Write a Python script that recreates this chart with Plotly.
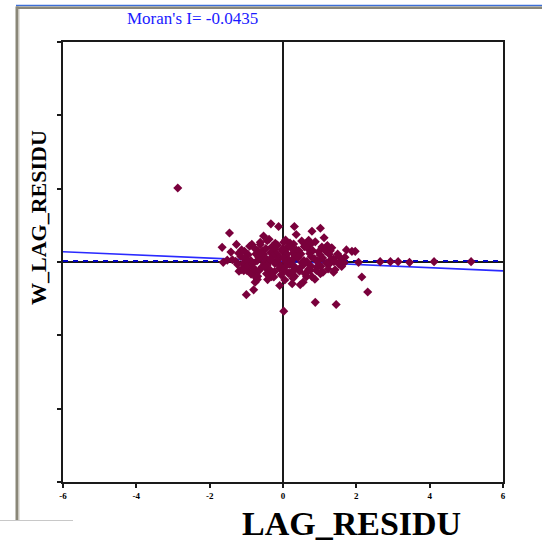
import plotly.graph_objects as go

# Moran scatterplot: residual of the spatial lag model vs. its spatially lagged value
moran_i = -0.0435
intercept = 0.02

# scattered points around the main cloud
lag_outer = [-2.87, -0.33, -0.12, 0.31, 1.02, 0.79, -1.46, 0.36, -0.53, -1.27,
             -1.66, -0.85, -0.62, -1.42, 1.73, 1.88, 0.70, 0.02, -1.63, -1.14,
             -0.76, -0.80, -1.00, -0.09, 0.25, 0.55, 0.88, 1.45, 0.02, 2.15,
             2.31, 2.06, 1.97, 2.65, 2.93, 3.14, 3.45, 4.12, 5.13, 1.38,
             1.38, 1.29, -1.20, -0.98, 0.47, -0.38, 1.12, -1.52, 1.60, -0.70]
w_outer = [2.02, 1.04, 0.97, 0.97, 0.92, 0.84, 0.79, 0.75, 0.71, 0.48,
           0.40, 0.48, 0.54, 0.27, 0.33, 0.29, 0.59, 0.54, -0.01, -0.21,
           -0.55, -0.76, -0.89, -0.64, -0.59, -0.55, -1.10, -1.16, -1.34, -0.41,
           -0.82, -0.01, 0.29, 0.01, 0.01, 0.01, -0.01, 0.01, 0.01, 0.09,
           -0.28, 0.31, -0.25, -0.24, -0.62, 0.62, 0.66, 0.05, -0.12, -0.48]

# dense core of the cloud
lag_core = [-0.43, -0.21, 0.07, 0.19, 0.51, 0.63, 0.88,
            -0.91, -0.62, -0.31, -0.15, 0.12, 0.29, 0.58, 0.74, 1.06, 1.21,
            -1.13, -0.79, -0.69, -0.47, -0.22, -0.03, 0.21, 0.36, 0.66, 0.81, 1.14, 1.33,
            -1.21, -1.05, -0.74, -0.57, -0.34, -0.17, 0.05, 0.27, 0.43, 0.73, 0.97, 1.16, 1.49,
            -1.15, -0.95, -0.66, -0.53, -0.27, -0.09, 0.11, 0.33, 0.49, 0.77, 1.01, 1.26, 1.53, 1.69,
            -1.38, -1.04, -0.88, -0.59, -0.45, -0.19, 0.01, 0.16, 0.41, 0.57, 0.86, 1.08, 1.31, 1.58,
            -1.29, -1.09, -0.97, -0.71, -0.51, -0.37, -0.12, 0.08, 0.23, 0.52, 0.65, 0.93, 1.18, 1.39, 1.67,
            -1.24, -0.97, -0.83, -0.57, -0.43, -0.22, -0.07, 0.17, 0.32, 0.58, 0.75, 1.03, 1.25, 1.52,
            -1.01, -0.75, -0.49, -0.35, -0.09, 0.06, 0.31, 0.47, 0.75, 0.92, 1.23, 1.42,
            -1.07, -0.82, -0.65, -0.39, -0.23, 0.03, 0.19, 0.45, 0.62, 0.91, 1.09,
            -0.87, -0.69, -0.45, -0.31, -0.05, 0.15, 0.32, 0.61, 0.79, 1.02,
            -0.73, -0.42, -0.25, 0.05, 0.27, 0.64, 0.87,
            -0.35, 0.41, -0.81, 0.95, -0.02, 0.24, -0.60, 0.70]
w_core = [0.58, 0.51, 0.60, 0.52, 0.57, 0.49, 0.55,
          0.43, 0.48, 0.41, 0.46, 0.40, 0.49, 0.42, 0.47, 0.41, 0.45,
          0.33, 0.39, 0.31, 0.37, 0.35, 0.30, 0.40, 0.33, 0.38, 0.31, 0.36, 0.39,
          0.24, 0.29, 0.22, 0.30, 0.26, 0.21, 0.29, 0.24, 0.31, 0.23, 0.28, 0.30, 0.22,
          0.15, 0.20, 0.13, 0.21, 0.17, 0.12, 0.21, 0.15, 0.22, 0.14, 0.19, 0.21, 0.15, 0.13,
          0.06, 0.11, 0.04, 0.12, 0.08, 0.03, 0.11, 0.06, 0.12, 0.04, 0.09, 0.11, 0.07, 0.05,
          0.02, -0.04, 0.01, 0.03, -0.03, 0.02, -0.04, 0.00, 0.03, -0.02, 0.01, 0.02, -0.03, 0.01, -0.02,
          -0.07, -0.12, -0.05, -0.13, -0.08, -0.04, -0.12, -0.07, -0.13, -0.05, -0.10, -0.12, -0.07, -0.05,
          -0.15, -0.21, -0.14, -0.22, -0.17, -0.13, -0.21, -0.16, -0.22, -0.14, -0.19, -0.21,
          -0.24, -0.30, -0.23, -0.31, -0.26, -0.22, -0.30, -0.25, -0.31, -0.23, -0.28,
          -0.33, -0.39, -0.32, -0.40, -0.35, -0.31, -0.39, -0.33, -0.40, -0.32,
          -0.43, -0.48, -0.41, -0.49, -0.44, -0.40, -0.47,
          0.08, 0.14, -0.18, 0.02, 0.35, -0.09, 0.24, -0.20]

lag_residu = lag_outer + lag_core
w_lag_residu = w_outer + w_core

x_ticks = [-6, -4, -2, 0, 2, 4, 6]
x_labels = ["-6", "-4", "-2", "0", "2", "4", "6"]
y_ticks = [-6, -4, -2, 0, 2, 4, 6]
axis_range = [-6, 6]

# page geometry (pixels) of the plotting area
W, H = 542, 548
L, R, T, B = 63, 503, 42, 482


def px(x):
    return (x - L) / (R - L)


def py(y):
    return (B - y) / (B - T)


fig = go.Figure()

# fitted slope line
fig.add_trace(go.Scatter(
    x=axis_range,
    y=[intercept + moran_i * v for v in axis_range],
    mode="lines", line=dict(color="#2a2aff", width=1.6),
    hoverinfo="skip", showlegend=False,
))

# reference dashed line
fig.add_trace(go.Scatter(
    x=axis_range, y=[0.03, 0.03],
    mode="lines", line=dict(color="#0000c8", width=2, dash="5px,5px"),
    hoverinfo="skip", showlegend=False,
))

fig.add_trace(go.Scatter(
    x=lag_residu, y=w_lag_residu,
    mode="markers",
    marker=dict(symbol="diamond", size=7, color="#7a003c", line=dict(width=0)),
    showlegend=False,
))

axis_common = dict(
    range=axis_range, showgrid=False,
    zeroline=True, zerolinecolor="#1a1a1a", zerolinewidth=1.5,
    showline=True, mirror=True, linecolor="#1a1a1a", linewidth=1.5,
    ticks="outside", ticklen=4, tickwidth=1.5, tickcolor="#1a1a1a",
)

fig.update_xaxes(
    **axis_common, tickvals=x_ticks, ticktext=x_labels,
    tickfont=dict(family="Liberation Serif", size=9, color="#000000", weight="bold"),
)
fig.update_yaxes(**axis_common, tickvals=y_ticks, showticklabels=False)

# window frame around the chart
frame = [
    dict(type="line", x0=px(16), x1=px(542), y0=py(5.5), y1=py(5.5),
         line=dict(color="#3d6fd6", width=1.5)),
    dict(type="rect", x0=px(16), x1=px(542), y0=py(6.5), y1=py(9),
         fillcolor="#8a8778", line=dict(width=0)),
    dict(type="rect", x0=px(15.5), x1=px(18.5), y0=py(6.5), y1=py(520),
         fillcolor="#8a8778", line=dict(width=0)),
    dict(type="rect", x0=px(18.5), x1=px(19.5), y0=py(9), y1=py(520),
         fillcolor="#c9c7bd", line=dict(width=0)),
    dict(type="line", x0=px(0), x1=px(73), y0=py(520.5), y1=py(520.5),
         line=dict(color="#c8c8c8", width=1)),
]
for s in frame:
    fig.add_shape(xref="paper", yref="paper", layer="above", **s)

fig.add_annotation(
    text="Moran's I= -0.0435", xref="paper", yref="paper",
    x=px(125), y=py(18), xanchor="left", yanchor="middle", showarrow=False,
    font=dict(family="Liberation Serif", size=17, color="#1a1aff"),
)
fig.add_annotation(
    text="LAG_RESIDU", xref="paper", yref="paper",
    x=px(351), y=py(523), xanchor="center", yanchor="middle", showarrow=False,
    font=dict(family="Liberation Serif", size=34, color="#000000", weight="bold"),
)
fig.add_annotation(
    text="W_LAG_RESIDU", xref="paper", yref="paper", textangle=-90,
    x=px(38), y=py(218), xanchor="center", yanchor="middle", showarrow=False,
    font=dict(family="Liberation Serif", size=22, color="#000000", weight="bold"),
)

fig.update_layout(
    width=W, height=H,
    margin=dict(l=L, r=W - R, t=T, b=H - B, pad=0),
    paper_bgcolor="#ffffff", plot_bgcolor="#ffffff",
    showlegend=False,
)

fig.write_html("out.html")
